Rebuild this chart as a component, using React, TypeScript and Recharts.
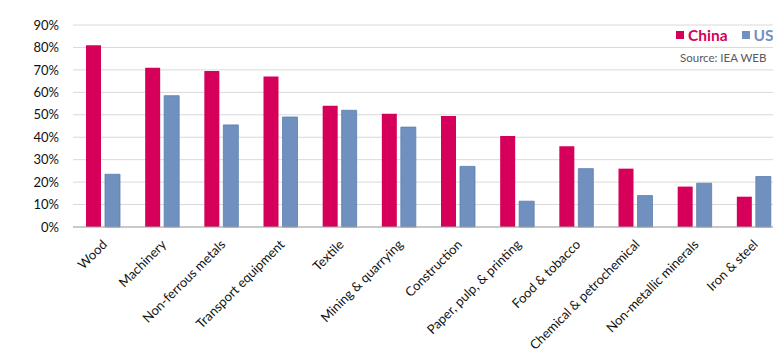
import React from "react";
import { BarChart, Bar, XAxis, YAxis, CartesianGrid } from "recharts";

const categories = [
  "Wood",
  "Machinery",
  "Non-ferrous metals",
  "Transport equipment",
  "Textile",
  "Mining & quarrying",
  "Construction",
  "Paper, pulp, & printing",
  "Food & tobacco",
  "Chemical & petrochemical",
  "Non-metallic minerals",
  "Iron & steel",
];
const chinaValues = [81, 71, 69.5, 67, 54, 50.5, 49.5, 40.5, 36, 26, 18, 13.5];
const usValues = [23.5, 58.5, 45.5, 49, 52, 44.5, 27, 11.5, 26, 14, 19.5, 22.5];
const yTicks = [0, 10, 20, 30, 40, 50, 60, 70, 80, 90];

const CHINA = "#D6005A";
const US = "#7091BF";
const FONT = "Lato, 'Open Sans', 'Liberation Sans', sans-serif";

const data = categories.map((c, i) => ({ name: c, China: chinaValues[i], US: usValues[i] }));

const XTick = (props: any) => {
  const { x, y, payload } = props;
  const ax = x + 3;
  const ay = y + 8;
  return (
    <text
      x={ax}
      y={ay}
      transform={`rotate(-45, ${ax}, ${ay})`}
      textAnchor="end"
      dominantBaseline="middle"
      fontSize={13}
      fontFamily={FONT}
      fill="#111"
    >
      {payload.value}
    </text>
  );
};

export default function App() {
  return (
    <div style={{ position: "relative", width: 773, height: 347, background: "#fff" }}>
      <BarChart
        width={773}
        height={347}
        data={data}
        margin={{ top: 17, right: -2, bottom: 0, left: 0 }}
        barGap={4}
        barCategoryGap={13}
      >
        <CartesianGrid vertical={false} stroke="#D9D9D9" />
        <XAxis
          dataKey="name"
          interval={0}
          height={128}
          tick={<XTick />}
          tickLine={false}
          axisLine={{ stroke: "#A6A6A6" }}
        />
        <YAxis
          width={65}
          domain={[0, 90]}
          ticks={yTicks}
          interval={0}
          tickFormatter={(v: number) => `${v}%`}
          tickLine={false}
          axisLine={false}
          tick={{ fontSize: 13, fill: "#111", fontFamily: FONT }}
          tickMargin={8}
        />
        <Bar dataKey="China" fill={CHINA} isAnimationActive={false} />
        <Bar dataKey="US" fill={US} stroke="#5A7DB0" strokeWidth={0.8} isAnimationActive={false} />
      </BarChart>
      <div
        style={{
          position: "absolute",
          left: 664,
          top: 15,
          width: 100,
          fontFamily: FONT,
          padding: "2px 4px 4px 4px",
        }}
      >
        <div style={{ display: "flex", alignItems: "center", fontWeight: 700, fontSize: 15.5, lineHeight: "20px" }}>
          <span style={{ display: "inline-block", width: 8, height: 8, background: CHINA, marginRight: 4 }} />
          <span style={{ color: CHINA, marginRight: 14 }}>China</span>
          <span style={{ display: "inline-block", width: 8, height: 8, background: US, marginRight: 4 }} />
          <span style={{ color: US }}>US</span>
        </div>
        <div style={{ fontSize: 11.5, color: "#595959", marginTop: 6, marginLeft: 4, lineHeight: "14px" }}>Source: IEA WEB</div>
      </div>
    </div>
  );
}
